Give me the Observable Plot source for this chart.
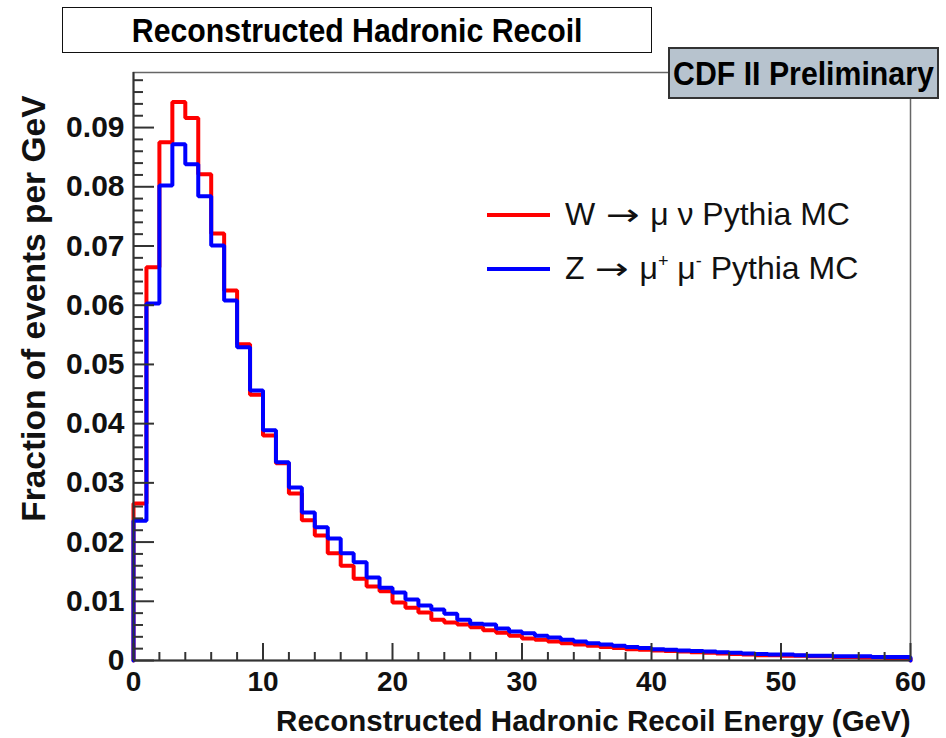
<!DOCTYPE html>
<html>
<head>
<meta charset="utf-8">
<script src="https://cdn.jsdelivr.net/npm/d3@7"></script>
<script src="https://cdn.jsdelivr.net/npm/@observablehq/plot@0.6"></script>
<style>
  html, body { margin: 0; padding: 0; background: #fff; }
  #wrap { position: relative; width: 946px; height: 738px; overflow: hidden; font-family: "Liberation Sans", Arial, Helvetica, sans-serif; }
  .titlebox { position: absolute; left: 62px; top: 7px; width: 588px; height: 44px; border: 1.5px solid #111; background: #fff;
    display: flex; align-items: center; justify-content: center; font-weight: bold; font-size: 34px; }
  .cdfbox { position: absolute; left: 668px; top: 47px; width: 267px; height: 48px; border: 2px solid #333; background: #b7c3ce;
    display: flex; align-items: center; justify-content: center; font-weight: bold; font-size: 34px; }
  .narrow { display: inline-block; transform: scaleX(0.89); white-space: nowrap; }
  .leg { position: absolute; display: flex; align-items: center; font-size: 32px; color: #111; white-space: nowrap; }
  .leg .swatch { width: 63px; height: 4px; margin-right: 15px; }
  .arrow { display: inline-block; font-family: "DejaVu Sans", sans-serif; font-size: 30px; transform: scaleX(1.35); margin: 0 6px; }
</style>
</head>
<body>
<div id="wrap">
  <div id="chart"></div>
  <div class="titlebox"><span class="narrow">Reconstructed Hadronic Recoil</span></div>
  <div class="cdfbox"><span class="narrow">CDF II Preliminary</span></div>
  <div class="leg" style="left:487px; top:196px;"><span class="swatch" style="background:#ff0000"></span><span>W <span class="arrow">→</span> μ ν Pythia MC</span></div>
  <div class="leg" style="left:487px; top:250px;"><span class="swatch" style="background:#0000ff"></span><span>Z <span class="arrow">→</span> μ<sup style="font-size:18px">+</sup> μ<sup style="font-size:18px">-</sup> Pythia MC</span></div>
</div>
<script>
// Histogram bins: lower edges in GeV (1 GeV wide)
const binEdges = d3.range(0, 61);

// Fraction of events per GeV, W -> mu nu (Pythia MC)
const wValues = [
  0.0265, 0.0664, 0.0875, 0.0943, 0.0916, 0.0821, 0.0721, 0.0625, 0.0534, 0.0449,
  0.0380, 0.0333, 0.0282, 0.0237, 0.0211, 0.0181, 0.0160, 0.0138, 0.0125, 0.0117,
  0.0098, 0.0089, 0.0081, 0.0069, 0.0064, 0.0061, 0.0056, 0.0051, 0.0047, 0.0042,
  0.0037, 0.0035, 0.0032, 0.0029, 0.0027, 0.0025, 0.0023, 0.0021, 0.0019, 0.0018,
  0.0017, 0.0016, 0.0015, 0.0014, 0.0013, 0.0012, 0.0011, 0.0010, 0.0009, 0.0009,
  0.0008, 0.0008, 0.0007, 0.0007, 0.0006, 0.0006, 0.0005, 0.0005, 0.0004, 0.0004
];

// Fraction of events per GeV, Z -> mu+ mu- (Pythia MC)
const zValues = [
  0.0236, 0.0603, 0.0802, 0.0872, 0.0838, 0.0784, 0.0701, 0.0608, 0.0529, 0.0456,
  0.0389, 0.0335, 0.0292, 0.0250, 0.0225, 0.0206, 0.0181, 0.0166, 0.0140, 0.0123,
  0.0115, 0.0103, 0.0093, 0.0086, 0.0079, 0.0069, 0.0062, 0.0061, 0.0054, 0.0049,
  0.0046, 0.0042, 0.0039, 0.0035, 0.0032, 0.0029, 0.0027, 0.0025, 0.0023, 0.0021,
  0.0019, 0.0018, 0.0017, 0.0016, 0.0015, 0.0014, 0.0013, 0.0012, 0.0011, 0.0010,
  0.0010, 0.0009, 0.0008, 0.0008, 0.0007, 0.0007, 0.0007, 0.0006, 0.0006, 0.0006
];

// Axis ticks
const xTicks = [0, 10, 20, 30, 40, 50, 60];
const xMinorTicks = [2, 4, 6, 8, 12, 14, 16, 18, 22, 24, 26, 28, 32, 34, 36, 38, 42, 44, 46, 48, 52, 54, 56, 58];
const yTicks = [0, 0.01, 0.02, 0.03, 0.04, 0.05, 0.06, 0.07, 0.08, 0.09];
const yMinorTicks = d3.range(1, 50).map(i => +(i * 0.002).toFixed(3)).filter(v => Math.round(v * 1000) % 10 !== 0);

const xLabel = "Reconstructed Hadronic Recoil Energy (GeV)";
const yLabel = "Fraction of events per GeV";

// Turn bin contents into a closed step outline
function steps(values) {
  const pts = [{x: binEdges[0], y: 0}];
  values.forEach((v, i) => pts.push({x: binEdges[i], y: v}));
  pts.push({x: binEdges[values.length], y: values[values.length - 1]});
  pts.push({x: binEdges[values.length], y: 0});
  return pts;
}

const W = 946, H = 738;
const mL = 133, mR = 36, mT = 72, mB = 78;
const innerW = W - mL - mR, innerH = H - mT - mB;

const chart = Plot.plot({
  width: W,
  height: H,
  marginLeft: mL,
  marginRight: mR,
  marginTop: mT,
  marginBottom: mB,
  style: {fontFamily: "'Liberation Sans', Arial, Helvetica, sans-serif", fontSize: "30px", fontWeight: "bold", color: "#111", background: "#fff", overflow: "visible"},
  x: {domain: [0, 60]},
  y: {domain: [0, 0.0993]},
  marks: [
    Plot.frame({stroke: "#666", strokeWidth: 1.5}),
    Plot.line(steps(wValues), {x: "x", y: "y", curve: "step-after", stroke: "#ff0000", strokeWidth: 4, strokeLinejoin: "miter"}),
    Plot.line(steps(zValues), {x: "x", y: "y", curve: "step-after", stroke: "#0000ff", strokeWidth: 4, strokeLinejoin: "miter"}),
    Plot.ruleX([0], {stroke: "#333", strokeWidth: 2}),
    Plot.ruleY([0], {stroke: "#333", strokeWidth: 2}),
    Plot.tickY(yTicks, {y: d => d, stroke: "#333", strokeWidth: 2, insetRight: innerW - 21}),
    Plot.tickY(yMinorTicks, {y: d => d, stroke: "#333", strokeWidth: 2, insetRight: innerW - 10}),
    Plot.tickX(xTicks, {x: d => d, stroke: "#333", strokeWidth: 2, insetTop: innerH - 17}),
    Plot.tickX(xMinorTicks, {x: d => d, stroke: "#333", strokeWidth: 2, insetTop: innerH - 8}),
    Plot.axisY({ticks: yTicks, tickSize: 0, tickPadding: 9, label: null, fontSize: 30,
      tickFormat: d => d === 0 ? "0" : d.toFixed(2)}),
    Plot.axisX({ticks: xTicks, tickSize: 0, tickPadding: 11, label: null, fontSize: 28,
      tickFormat: d => String(d)}),
    Plot.text([xLabel], {text: d => d, frameAnchor: "bottom-right", textAnchor: "end", lineAnchor: "bottom", dy: 70, fontSize: 29.5, fontWeight: "bold", fill: "#111"}),
    Plot.text([yLabel], {text: d => d, frameAnchor: "top-left", textAnchor: "end", lineAnchor: "middle", rotate: -90, dx: -99, dy: 23, fontSize: 33.5, fontWeight: "bold", fill: "#111"})
  ]
});
document.getElementById("chart").appendChild(chart);
</script>
</body>
</html>
